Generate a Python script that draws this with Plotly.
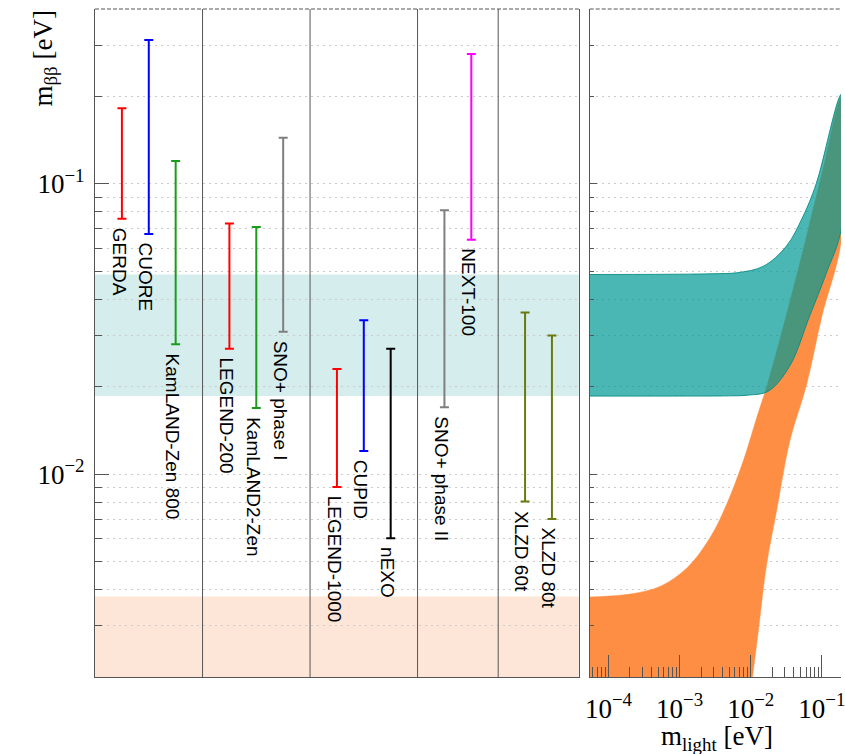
import math
import plotly.graph_objects as go

# ---------------- data ----------------
experiments = ["GERDA", "CUORE", "KamLAND-Zen 800",
               "LEGEND-200", "KamLAND2-Zen", "SNO+ phase I",
               "LEGEND-1000", "CUPID", "nEXO",
               "SNO+ phase II", "NEXT-100",
               "XLZD 60t", "XLZD 80t"]
slots = [1, 2, 3, 5, 6, 7, 9, 10, 11, 13, 14, 16, 17]
mbb_low = [0.0758, 0.0672, 0.0280, 0.0270, 0.0169, 0.0309,
           0.00902, 0.0120, 0.00601, 0.0170, 0.0642, 0.00804, 0.0070]
mbb_high = [0.182, 0.313, 0.1197, 0.073, 0.071, 0.144,
            0.0230, 0.0339, 0.0270, 0.081, 0.28, 0.036, 0.030]
bar_colors = ["#ff0000", "#0000ff", "#1a9c1a",
              "#ff0000", "#1a9c1a", "#7f7f7f",
              "#ff0000", "#0000ff", "#000000",
              "#7f7f7f", "#ff00ff",
              "#6b7a10", "#6b7a10"]
group_edges = [4, 8, 12, 15]
slot_range = [0, 18]

io_band_low, io_band_high = 0.01857, 0.0487
no_band_high = 0.00379

# inverted ordering band (right panel)
io_upper_m = [5.0e-5, 1e-3, 3e-3, 6.5e-3, 1.51e-2, 3.18e-2, 5.44e-2, 8.34e-2, 1.9e-1]
io_upper_v = [0.0487, 0.0488, 0.0490, 0.0494, 0.052, 0.061, 0.0772, 0.100, 0.204]
io_lower_m = [5.0e-5, 1e-3, 5e-3, 9e-3, 1.77e-2, 3.55e-2, 6.73e-2, 1.15e-1, 1.9e-1]
io_lower_v = [0.01857, 0.01857, 0.0186, 0.0187, 0.0193, 0.0236, 0.035, 0.049, 0.071]

# normal ordering band (right panel)
no_upper_m = [5.0e-5, 2.0e-4, 5.5e-4, 1.3e-3, 2.73e-3, 4.67e-3, 7.96e-3,
              1.22e-2, 1.77e-2, 4.4e-2, 1.0e-1, 1.9e-1]
no_upper_v = [0.00377, 0.00386, 0.00412, 0.00478, 0.00608, 0.00795, 0.0112,
              0.0157, 0.0209, 0.048, 0.108, 0.2]
no_lower_m = [5.0e-5, 8.1e-3, 1.06e-2, 1.28e-2, 1.67e-2, 2.32e-2, 3.55e-2,
              6.1e-2, 1.0e-1, 1.9e-1]
no_lower_v = [0.0012, 0.0012, 0.002, 0.00288, 0.00486, 0.0075, 0.0130,
              0.0203, 0.0349, 0.065]

y_range = [0.002, 0.4]
y_major = [0.01, 0.1]
y_major_text = ["10<sup>\u22122</sup>", "10<sup>\u22121</sup>"]
y_minor = [0.002, 0.003, 0.004, 0.005, 0.006, 0.007, 0.008, 0.009,
           0.02, 0.03, 0.04, 0.05, 0.06, 0.07, 0.08, 0.09,
           0.2, 0.3, 0.4]
x2_range = [5.44e-5, 0.1862]
x2_major = [1e-4, 1e-3, 1e-2, 1e-1]
x2_major_text = ["10<sup>\u22124</sup>", "10<sup>\u22123</sup>",
                 "10<sup>\u22122</sup>", "10<sup>\u22121</sup>"]
x2_minor = [6e-5, 7e-5, 8e-5, 9e-5] + [k * 10.0 ** e for e in (-4, -3, -2)
                                        for k in range(2, 10)]

# ---------------- style ----------------
W, H = 845, 754
L_PANEL = (91, 580)
R_PANEL = (591, 845)
TOP, BOT = 9, 677
SERIF = "Liberation Serif"
SANS = "Liberation Sans"
AX = "#555555"
GRID = "#cccccc"
GRID_DASH = "2px,4px"

fig = go.Figure()

# right panel bands
fig.add_trace(go.Scatter(
    x=no_upper_m + no_lower_m[::-1], y=no_upper_v + no_lower_v[::-1],
    xaxis="x2", yaxis="y2", mode="lines", fill="toself",
    fillcolor="#fd8e44", line=dict(color="#fd8e44", width=0.5, shape="spline", smoothing=1.0),
    hoverinfo="skip", showlegend=False))
fig.add_trace(go.Scatter(
    x=io_upper_m + io_lower_m[::-1], y=io_upper_v + io_lower_v[::-1],
    xaxis="x2", yaxis="y2", mode="lines", fill="toself",
    fillcolor="rgba(0,153,150,0.71)",
    line=dict(color="rgba(10,140,130,0.9)", width=1, shape="spline", smoothing=1.0),
    hoverinfo="skip", showlegend=False))

# experiment sensitivity bars
for name, s, lo, hi, c in zip(experiments, slots, mbb_low, mbb_high, bar_colors):
    fig.add_trace(go.Scatter(
        x=[s], y=[lo], mode="markers", xaxis="x", yaxis="y",
        marker=dict(size=1, color="rgba(0,0,0,0)"),
        error_y=dict(type="data", symmetric=False, array=[hi - lo], arrayminus=[0],
                     width=4.5, thickness=2, color=c),
        hoverinfo="skip", showlegend=False))

annotations = []
for name, s, lo in zip(experiments, slots, mbb_low):
    annotations.append(dict(
        x=s, y=math.log10(lo), xref="x", yref="y", text=name, textangle=90,
        showarrow=False, xanchor="center", yanchor="top", yshift=-7, xshift=-3,
        font=dict(family=SANS, size=19, color="black")))

annotations.append(dict(
    x=40 / W, y=1, xref="paper", yref="paper",
    text="m<sub>\u03b2\u03b2</sub> [eV]", textangle=-90, showarrow=False,
    xanchor="center", yanchor="top",
    font=dict(family=SERIF, size=27, color="black")))
annotations.append(dict(
    x=720 / W, y=(BOT - 719) / (BOT - TOP), xref="paper", yref="paper",
    text="m<sub>light</sub> [eV]", showarrow=False,
    xanchor="center", yanchor="top",
    font=dict(family=SERIF, size=27, color="black")))

shapes = []
# light bands in the left panel
shapes.append(dict(type="rect", xref="x domain", yref="y", x0=0, x1=1,
                   y0=io_band_low, y1=io_band_high, fillcolor="#d5eded",
                   line=dict(width=0), layer="below"))
shapes.append(dict(type="rect", xref="x domain", yref="y", x0=0, x1=1,
                   y0=y_range[0], y1=no_band_high, fillcolor="#fde5d8",
                   line=dict(width=0), layer="below"))
# group separators
for e in group_edges:
    shapes.append(dict(type="line", xref="x", yref="y domain", x0=e, x1=e, y0=0, y1=1,
                       line=dict(color=AX, width=1)))
# dashed top borders
for xr in ("x domain", "x2 domain"):
    shapes.append(dict(type="line", xref=xr, yref="paper", x0=0, x1=1, y0=1, y1=1,
                       line=dict(color=AX, width=1, dash="4px,2px")))

ymin_l, ymax_l = math.log10(y_range[0]), math.log10(y_range[1])

common_y = dict(type="log", range=[ymin_l, ymax_l], tickmode="array", tickvals=y_major,
                showgrid=True, gridcolor=GRID, griddash=GRID_DASH, gridwidth=1,
                zeroline=False, showline=True, linecolor=AX, linewidth=1.2,
                ticks="inside", tickcolor=AX)

fig.update_layout(
    width=W, height=H,
    margin=dict(l=0, r=0, t=TOP, b=H - BOT),
    paper_bgcolor="white", plot_bgcolor="white",
    showlegend=False,
    xaxis=dict(domain=[L_PANEL[0] / W, L_PANEL[1] / W], range=slot_range,
               showgrid=False, zeroline=False, showticklabels=False, ticks="",
               showline=True, linecolor=AX, linewidth=1.2, anchor="y", fixedrange=True),
    yaxis=dict(**common_y, anchor="x", ticktext=y_major_text, ticklen=14, mirror=True,
               tickfont=dict(family=SERIF, size=27, color="black"), ticklabelstandoff=4,
               minor=dict(tickmode="array", tickvals=y_minor, ticks="inside", ticklen=7,
                          tickcolor=AX, showgrid=True, gridcolor=GRID,
                          griddash=GRID_DASH, gridwidth=1)),
    xaxis2=dict(domain=[R_PANEL[0] / W, 1.0], type="log",
                range=[math.log10(x2_range[0]), math.log10(x2_range[1])],
                tickmode="array", tickvals=x2_major, ticktext=x2_major_text,
                ticks="inside", ticklen=22, tickcolor=AX, showgrid=False, zeroline=False,
                showline=True, linecolor=AX, linewidth=1.2, anchor="y2",
                tickfont=dict(family=SERIF, size=27, color="black"), ticklabelstandoff=7,
                ticklabeloverflow="allow",
                minor=dict(tickmode="array", tickvals=x2_minor, ticks="inside",
                           ticklen=10, tickcolor=AX, showgrid=False)),
    yaxis2=dict(**common_y, anchor="x2", showticklabels=False, ticklen=7,
                minor=dict(tickmode="array", tickvals=y_minor, ticks="inside", ticklen=4,
                           tickcolor=AX, showgrid=True, gridcolor=GRID,
                           griddash=GRID_DASH, gridwidth=1)),
    annotations=annotations,
    shapes=shapes,
)

fig.write_html("out.html", config={"displayModeBar": False},
               post_script="document.body.style.margin='0px';document.body.style.overflow='hidden';")
